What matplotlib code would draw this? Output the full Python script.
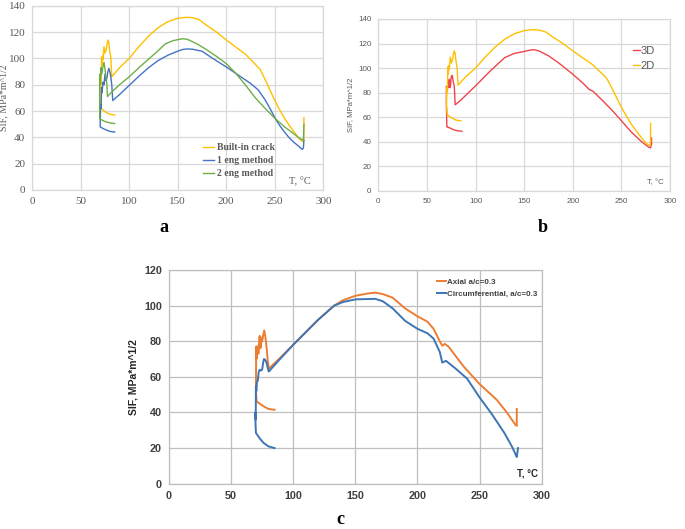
import matplotlib
matplotlib.use("Agg")
import matplotlib.pyplot as plt

# ---- panel a / b: built-in crack (== 2D) ----
builtin_t = [85, 80, 75, 71, 70, 70.5, 71, 71.5, 72, 72.5, 73, 74, 75, 76, 77, 78, 79, 80, 81, 82,
             90, 100, 110, 120, 130, 140, 150, 155, 160, 165, 172, 180, 190, 200, 210, 220, 230, 235,
             240, 245, 250, 255, 260, 265, 270, 275, 278, 279.5, 280, 280]
builtin_k = [57, 57.5, 59.5, 62, 70, 84, 80, 101, 95, 102, 99, 109, 104, 106, 110, 114, 112, 105, 101, 86,
             93, 100, 109, 117, 123.5, 128, 130.5, 131, 131.3, 131, 129.5, 125, 120, 114, 108.5, 103, 95.5, 91.5,
             84, 76, 68, 61, 54.5, 49, 44, 39, 37, 37, 40, 55]

eng1_t = [85, 80, 75, 71, 70, 70.5, 71, 71.5, 72, 73, 74, 75, 76, 77, 78, 79, 80, 81, 82, 83,
          90, 100, 110, 120, 130, 140, 150, 155, 160, 165, 175, 185, 200, 215, 225, 233, 240, 245,
          250, 255, 260, 265, 270, 275, 277, 278.5, 279.5, 280]
eng1_k = [44, 44.5, 46, 47.5, 48, 65, 62, 78, 74, 82, 80, 88, 83, 85, 90, 92.5, 90, 86, 80, 68,
          72.5, 79.5, 86.5, 93, 98.5, 102.5, 105.5, 106.8, 107.2, 107, 105.5, 100.5, 93.5, 86, 81, 76, 68.5, 62,
          55, 49, 44, 39.5, 36, 33, 31.5, 30.8, 32, 38]

eng2_t = [85, 80, 75, 71, 69.5, 69.5, 70, 70.5, 71, 71.5, 72, 73, 74, 75, 76, 77, 77.5, 80,
          90, 100, 110, 120, 130, 137, 145, 155, 160, 170, 180, 190, 200, 210, 220, 230, 235,
          240, 250, 260, 270, 277, 279.5, 280]
eng2_k = [50.5, 51, 52, 53.5, 54, 88, 80, 86, 93, 88, 90, 94, 97, 92, 86, 80, 71, 73,
          80, 86, 93, 99.5, 106, 111, 113.5, 115, 114.5, 111, 106.5, 101.5, 96, 88.5, 79.5, 70, 66,
          62, 54.5, 48, 42.5, 38.5, 38, 50]

# ---- panel b: 3D ----
d3_t = [86, 82, 78, 74, 71, 70.5, 70, 70, 71, 72, 72.5, 73, 74, 75, 76, 77, 78, 78.5, 79, 85,
        100, 115, 130, 140, 150, 155, 160, 165, 175, 185, 200, 210, 217, 221, 230, 240, 250,
        260, 270, 278, 280, 281, 281]
d3_k = [48.5, 48.8, 49.5, 51, 52, 52, 70, 85, 83, 90, 84, 91, 84, 93, 94, 89, 86, 80, 70, 74,
        85.5, 97.5, 108.5, 112, 113.5, 114.5, 115, 114, 110, 104.5, 95, 88, 82.5, 81, 74, 66, 57,
        48, 40.5, 35.5, 35, 38, 43]

# ---- panel c ----
axial_t = [85, 80, 76, 73, 71, 70.5, 70, 70.2, 70.5, 70.8, 71.2, 71.6, 72, 72.5, 73, 73.5, 74, 74.5,
           75, 76, 76.7, 77.5, 78.5, 79.5, 80.5, 81, 90, 100, 110, 120, 133, 140, 150, 160, 166, 172,
           180, 190, 200, 208, 213, 218, 220, 222, 225, 237, 250, 264, 272, 277, 279, 280, 280]
axial_k = [41.5, 42, 43.5, 45, 46, 46, 52, 77, 70, 77, 74, 77, 73, 79, 83, 76, 77, 82,
           80, 84, 86, 83, 77, 69, 64, 65, 71, 78, 85, 92, 100, 103, 105.5, 106.8, 107.3, 106.5,
           104.5, 98.5, 94, 91, 87, 80, 77.5, 78.5, 77, 66, 56, 47, 40, 35, 33, 32.5, 42]

circ_t = [85, 80, 76, 73, 71, 70, 69.7, 69.5, 69.8, 70, 70.3, 70.8, 71.5, 72.3, 73, 74, 75, 75.8,
          76.5, 77.5, 78.5, 79.5, 80.3, 81, 90, 100, 110, 120, 133, 140, 150, 160, 166, 172, 180,
          190, 200, 208, 213, 218, 220, 223, 231, 240, 250, 260, 270, 276, 279, 280, 281]
circ_k = [20, 21, 23, 25.5, 27.5, 28.5, 33, 40, 36, 55, 52, 57, 58, 63, 64, 63.5, 64, 68,
          70, 69.5, 68, 65, 63, 63.5, 70.5, 78, 85, 92, 100, 102, 103.5, 103.7, 103.8, 102.5, 98.5,
          91.5, 87, 84.5, 81.5, 74, 68, 69, 64.5, 59, 48.5, 39, 28.5, 21, 16.5, 15, 20]

x_ticks = [0, 50, 100, 150, 200, 250, 300]

fig = plt.figure(figsize=(6.85, 5.29), dpi=100, facecolor="white")


def style(ax, ymax, grid_color, tick_font, tick_size, tick_color, weight="normal"):
    ax.set_xlim(0, 300)
    ax.set_ylim(0, ymax)
    ax.set_xticks(x_ticks)
    ax.set_yticks(range(0, ymax + 1, 20))
    ax.grid(True, color=grid_color, linewidth=0.9)
    ax.set_axisbelow(True)
    for s in ax.spines.values():
        s.set_color(grid_color)
        s.set_linewidth(0.9)
    ax.tick_params(length=0, pad=5, labelsize=tick_size, labelcolor=tick_color)
    for lab in ax.get_xticklabels() + ax.get_yticklabels():
        lab.set_family(tick_font)
        lab.set_fontweight(weight)


# panel a
ax_a = fig.add_axes([0.047, 0.641, 0.425, 0.348])
style(ax_a, 140, "#d9d9d9", "Liberation Serif", 8, "#595959")
ax_a.plot(builtin_t, builtin_k, color="#FFC000", lw=1.0, label="Built-in crack")
ax_a.plot(eng1_t, eng1_k, color="#4472C4", lw=1.0, label="1 eng method")
ax_a.plot(eng2_t, eng2_k, color="#70AD47", lw=1.0, label="2 eng method")
ax_a.set_ylabel("SIF, MPa*m^1/2", family="Liberation Serif", fontsize=7, color="#595959")
ax_a.yaxis.set_label_coords(-0.083, 0.5)
ax_a.text(276, 6, "T, °C", family="Liberation Serif", fontsize=7.5, color="#595959", ha="center", va="center")
leg = ax_a.legend(loc="upper left", bbox_to_anchor=(0.565, 0.285), frameon=False,
                  prop={"family": "Liberation Serif", "size": 7, "weight": "bold"},
                  handlelength=1.2, labelspacing=0.4, borderpad=0.1, handletextpad=0.25)
for t in leg.get_texts():
    t.set_color("#595959")
fig.text(164 / 685, 1 - 228 / 529, "a", family="Liberation Serif", fontsize=13, fontweight="bold",
         ha="center", va="center")

# panel b
ax_b = fig.add_axes([0.5523, 0.6395, 0.4258, 0.3246])
style(ax_b, 140, "#d9d9d9", "Liberation Sans", 5.8, "#595959")
ax_b.plot(d3_t, d3_k, color="#F0444A", lw=1.0, label="3D")
ax_b.plot(builtin_t, builtin_k, color="#FFC000", lw=1.0, label="2D")
ax_b.set_ylabel("SIF, MPa*m^1/2", family="Liberation Sans", fontsize=5.5, color="#595959", labelpad=3)
ax_b.text(285, 7, "T, °C", family="Liberation Sans", fontsize=5.5, color="#595959", ha="center", va="center")
leg = ax_b.legend(loc="upper left", bbox_to_anchor=(0.85, 0.88), frameon=False,
                  prop={"family": "Liberation Sans", "size": 8},
                  handlelength=0.6, labelspacing=0.45, borderpad=0.1, handletextpad=0.1)
for t in leg.get_texts():
    t.set_color("#595959")
fig.text(543 / 685, 1 - 228 / 529, "b", family="Liberation Serif", fontsize=13, fontweight="bold",
         ha="center", va="center")

# panel c
ax_c = fig.add_axes([0.2467, 0.0856, 0.544, 0.404])
style(ax_c, 120, "#bfbfbf", "Liberation Sans", 7.8, "#404040", weight="bold")
ax_c.plot(axial_t, axial_k, color="#ED7D31", lw=1.4, label="Axial a/c=0.3")
ax_c.plot(circ_t, circ_k, color="#3D75B5", lw=1.4, label="Circumferential, a/c=0.3")
ax_c.set_ylabel("SIF, MPa*m^1/2", family="Liberation Sans", fontsize=7.5, fontweight="bold",
                color="#262626", labelpad=4)
ax_c.text(289, 6, "T, °C", family="Liberation Sans", fontsize=7, fontweight="bold", color="#262626",
          ha="center", va="center")
leg = ax_c.legend(loc="upper left", bbox_to_anchor=(0.705, 0.985), frameon=False,
                  prop={"family": "Liberation Sans", "size": 5.8, "weight": "bold"},
                  handlelength=1.2, labelspacing=0.6, borderpad=0.1, handletextpad=0.1)
for t in leg.get_texts():
    t.set_color("#404040")
fig.text(340 / 685, 1 - 519 / 529, "c", family="Liberation Serif", fontsize=13, fontweight="bold",
         ha="center", va="center")

fig.savefig("out.png", dpi=100, facecolor="white")
